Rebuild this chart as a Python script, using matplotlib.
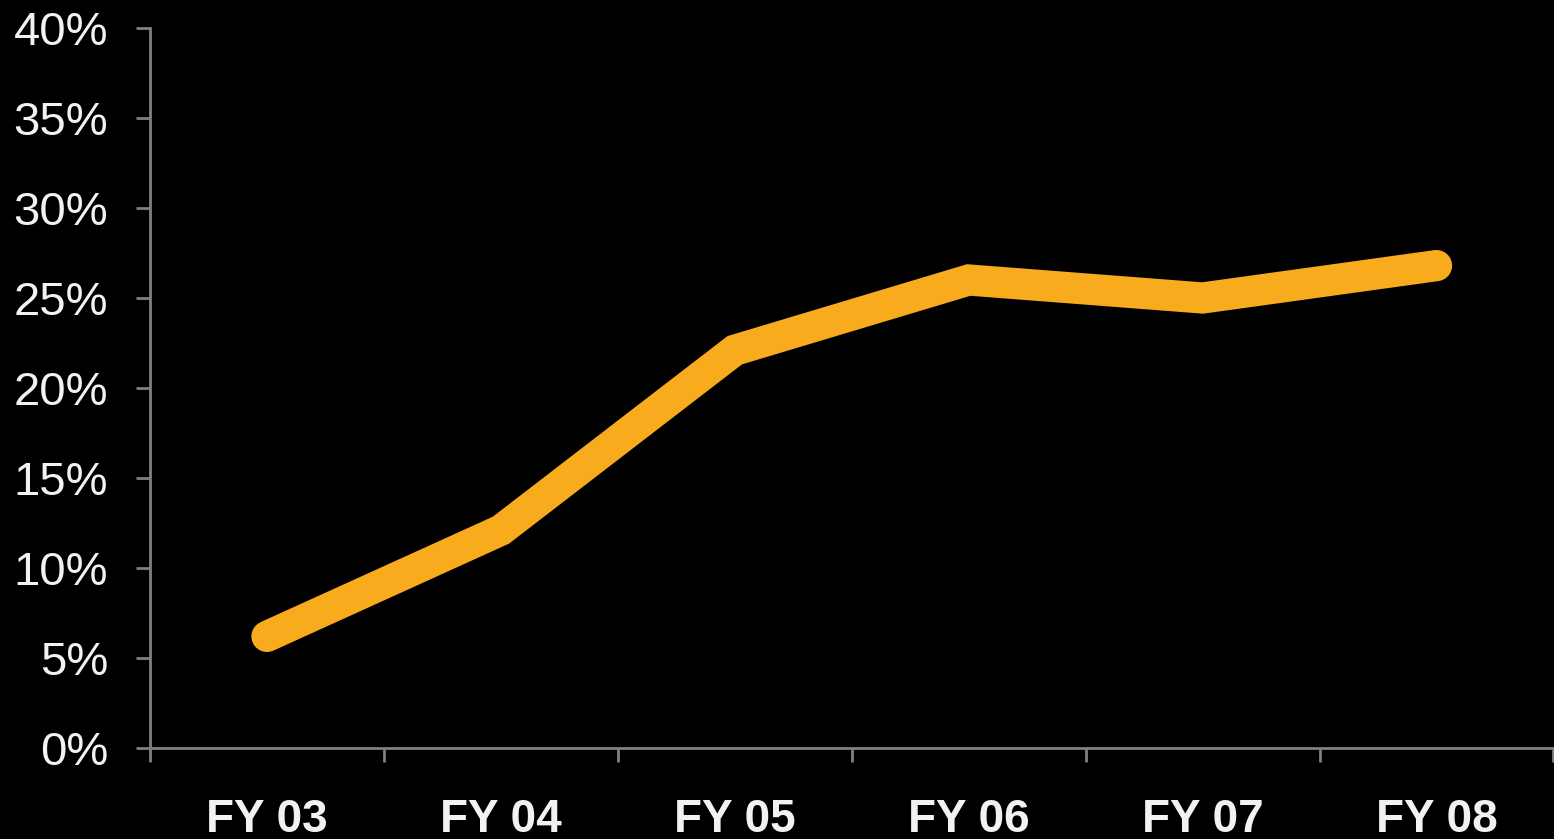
import matplotlib
matplotlib.use("Agg")
import matplotlib.pyplot as plt
from matplotlib.ticker import FixedLocator, PercentFormatter

categories = ["FY 03", "FY 04", "FY 05", "FY 06", "FY 07", "FY 08"]
values = [6.2, 12.1, 22.1, 26.0, 25.0, 26.8]
y_ticks = [0, 5, 10, 15, 20, 25, 30, 35, 40]

plt.rcParams['font.family'] = ['Liberation Sans', 'DejaVu Sans']

fig = plt.figure(figsize=(15.54, 8.39), dpi=100, facecolor='black')
ax = fig.add_axes([150/1554, 91/839, 1 - 150/1554 - 0.5/1554, (748-28)/839])
ax.set_facecolor('black')

x = list(range(len(categories)))
ax.plot(x, values, color='#F9AB1E', linewidth=22.5,
        solid_capstyle='round', solid_joinstyle='miter', clip_on=False)

ax.set_xlim(-0.5, len(categories) - 0.5)
ax.set_ylim(0, 40)

for s in ['top', 'right']:
    ax.spines[s].set_visible(False)
for s in ['left', 'bottom']:
    ax.spines[s].set_color('#808080')
    ax.spines[s].set_linewidth(2)

ax.set_yticks(y_ticks)
ax.yaxis.set_major_formatter(PercentFormatter(decimals=0))
ax.tick_params(axis='y', direction='out', length=10, width=2, color='#808080',
               pad=20, labelsize=34, labelcolor='#f2f2f2')

ax.set_xticks(x)
ax.set_xticklabels(categories, fontweight='bold')
ax.xaxis.set_minor_locator(FixedLocator([i - 0.5 for i in range(len(categories) + 1)]))
ax.tick_params(axis='x', which='major', length=0, pad=36, labelsize=33,
               labelcolor='#f2f2f2')
ax.tick_params(axis='x', which='minor', direction='out', length=10, width=2,
               color='#808080')

fig.savefig('out.png', dpi=100, facecolor='black')
